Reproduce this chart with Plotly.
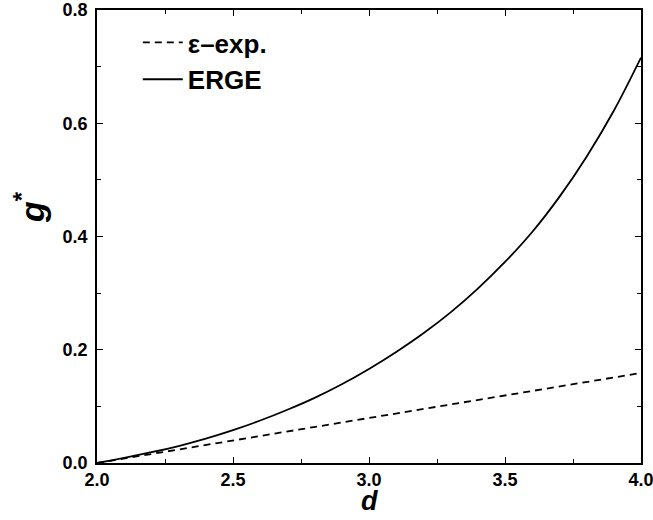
import plotly.graph_objects as go

d_erge = [2.0, 2.1, 2.2, 2.3, 2.4, 2.5, 2.6, 2.7, 2.8, 2.9, 3.0,
          3.1, 3.2, 3.3, 3.4, 3.5, 3.6, 3.7, 3.8, 3.9, 4.0]
g_erge = [0.000, 0.009, 0.019, 0.030, 0.043, 0.058, 0.075, 0.094, 0.115, 0.139, 0.166,
          0.196, 0.229, 0.266, 0.308, 0.355, 0.408, 0.470, 0.541, 0.622, 0.716]
d_eps = [2.0, 2.5, 3.0, 3.5, 4.0]
g_eps = [0.000, 0.040, 0.080, 0.119, 0.159]

x_ticks = [2.0, 2.5, 3.0, 3.5, 4.0]
x_labels = ["2.0", "2.5", "3.0", "3.5", "4.0"]
y_ticks = [0.0, 0.2, 0.4, 0.6, 0.8]
y_labels = ["0.0", "0.2", "0.4", "0.6", "0.8"]

FONT = "Liberation Sans, Arial, sans-serif"

fig = go.Figure()
fig.add_trace(go.Scatter(x=d_eps, y=g_eps, mode="lines", name="<b>\u03b5\u2013exp.</b>",
                         line=dict(color="black", width=1.8, dash="7px,5px")))
fig.add_trace(go.Scatter(x=d_erge, y=g_erge, mode="lines", name="<b>ERGE</b>",
                         line=dict(color="black", width=1.8, shape="spline")))

axis_common = dict(showline=True, linecolor="black", linewidth=1.5, mirror="ticks",
                   ticks="inside", ticklen=6, tickwidth=1, tickcolor="black",
                   showgrid=False, zeroline=False, automargin=False,
                   ticklabeloverflow="allow",
                   tickfont=dict(family=FONT, size=18, color="black", weight="bold"))

fig.update_xaxes(range=[2.0, 4.0], tickvals=x_ticks, ticktext=["<b>%s</b>" % t for t in x_labels],
                 minor=dict(dtick=0.25, ticks="inside", ticklen=4, tickcolor="black", tickwidth=1),
                 **axis_common)
fig.update_yaxes(range=[0.0, 0.8], tickvals=y_ticks, ticktext=["<b>%s</b>" % t for t in y_labels],
                 minor=dict(dtick=0.1, ticks="inside", ticklen=4, tickcolor="black", tickwidth=1),
                 ticklabelstandoff=4,
                 **axis_common)

fig.add_annotation(text="<b><i>d</i></b>", xref="paper", yref="paper",
                   x=0.5, y=-0.046, xanchor="center", yanchor="top",
                   showarrow=False,
                   font=dict(family=FONT, size=27, color="black"))
fig.add_annotation(text="<b><i>g</i><sup>*</sup></b>", xref="paper", yref="paper",
                   x=-0.125, y=0.565, xanchor="center", yanchor="middle",
                   textangle=-90, showarrow=False,
                   font=dict(family=FONT, size=34, color="black"))

fig.update_layout(
    width=653, height=520,
    margin=dict(l=97, r=12, t=10, b=57),
    plot_bgcolor="white", paper_bgcolor="white",
    showlegend=True,
    legend=dict(x=0.075, y=0.98, xanchor="left", yanchor="top", bgcolor="rgba(0,0,0,0)",
                font=dict(family=FONT, size=26, color="black"),
                tracegroupgap=0, itemwidth=40),
)

fig.write_html("out.html")
